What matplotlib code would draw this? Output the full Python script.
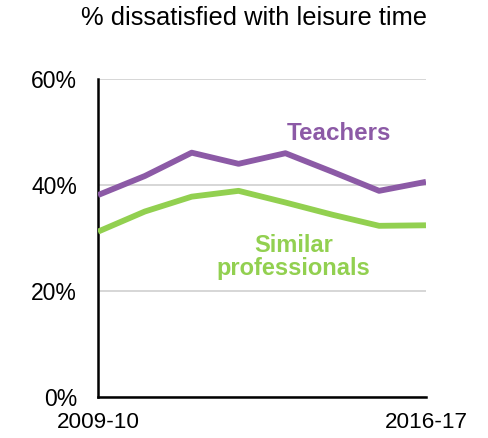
import matplotlib.pyplot as plt

plt.rcParams['font.family'] = ['Liberation Sans', 'DejaVu Sans']

# Data
years = ["2009-10", "2010-11", "2011-12", "2012-13", "2013-14", "2014-15", "2015-16", "2016-17"]
teachers = [38.1, 41.7, 46.1, 44.0, 46.0, 42.5, 38.9, 40.6]
similar = [31.2, 35.0, 37.8, 38.9, 36.7, 34.4, 32.3, 32.4]

purple = '#8C5AA6'
green = '#92D050'

fig = plt.figure(figsize=(4.89, 4.38), dpi=100)
ax = fig.add_axes([0.2004, 0.0936, 0.6707, 0.726])

x = list(range(len(years)))
ax.plot(x, teachers, color=purple, linewidth=4.2, solid_capstyle='butt', zorder=3)
ax.plot(x, similar, color=green, linewidth=4.2, solid_capstyle='butt', zorder=3)

ax.set_xlim(0, len(years) - 1)
ax.set_ylim(0, 60)
ax.set_yticks([0, 20, 40, 60])
ax.set_yticklabels(['0%', '20%', '40%', '60%'], fontsize=16.5)
ax.set_xticks([0, len(years) - 1])
ax.set_xticklabels([years[0], years[-1]], fontsize=16.2)
ax.tick_params(axis='y', length=0, pad=15)
ax.tick_params(axis='x', length=0, pad=11)

ax.grid(axis='y', color='#D0D0D0', linewidth=1.2, zorder=0)
for s in ['top', 'right']:
    ax.spines[s].set_visible(False)
for s in ['left', 'bottom']:
    ax.spines[s].set_linewidth(1.8)
    ax.spines[s].set_color('black')

ax.text(5.15, 49.8, 'Teachers', color=purple, fontsize=17.4, fontweight='bold',
        ha='center', va='center')
ax.text(4.17, 26.4, 'Similar\nprofessionals', color=green, fontsize=17,
        fontweight='bold', ha='center', va='center', linespacing=1.0)

fig.text(0.52, 0.958, '% dissatisfied with leisure time', fontsize=18.4,
         ha='center', va='center')

fig.savefig('out.png', dpi=100)
